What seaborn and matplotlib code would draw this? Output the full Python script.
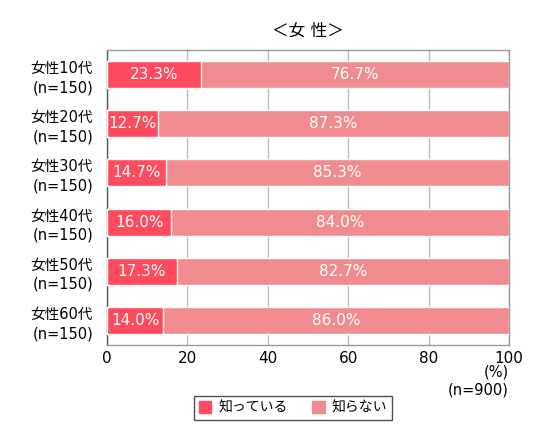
import matplotlib
matplotlib.use("Agg")
import matplotlib.pyplot as plt
import seaborn as sns
import pandas as pd
from matplotlib.patches import Patch

sns.set_theme(style="white")
plt.rcParams['font.family'] = ['DejaVu Sans', 'Noto Sans CJK JP']
plt.rcParams['text.color'] = 'black'
plt.rcParams['xtick.color'] = 'black'
plt.rcParams['ytick.color'] = 'black'

categories = ["女性10代\n(n=150)", "女性20代\n(n=150)", "女性30代\n(n=150)",
              "女性40代\n(n=150)", "女性50代\n(n=150)", "女性60代\n(n=150)"]
know = [23.3, 12.7, 14.7, 16.0, 17.3, 14.0]
dont_know = [76.7, 87.3, 85.3, 84.0, 82.7, 86.0]
series_names = ["知っている", "知らない"]

c_know = "#FF4B5E"
c_dont = "#F08C8F"

df = pd.DataFrame({"cat": categories, "know": know, "dont": dont_know})
df["total"] = df["know"] + df["dont"]

fig = plt.figure(figsize=(5.5, 4.43), dpi=100)
ax = fig.add_axes([107/550, 1-345/443, (509-107)/550, (345-50)/443])

sns.barplot(data=df, y="cat", x="total", color=c_dont, orient="h", ax=ax,
            width=0.55, saturation=1, zorder=3)
sns.barplot(data=df, y="cat", x="know", color=c_know, orient="h", ax=ax,
            width=0.55, saturation=1, zorder=3)

for i, (k, d) in enumerate(zip(know, dont_know)):
    ax.text(k/2, i, f"{k:.1f}%", ha="center", va="center", color="white",
            fontsize=11, zorder=5)
    ax.text(k + d/2, i, f"{d:.1f}%", ha="center", va="center", color="white",
            fontsize=11, zorder=5)

ax.set_xlim(0, 100)
ax.set_ylim(5.5, -0.5)
ax.set_xticks([0, 20, 40, 60, 80, 100])
ax.set_xticklabels(["0", "20", "40", "60", "80", "100"], fontsize=11)
ax.set_yticks(range(6))
ax.set_yticklabels(categories, fontsize=10.5, linespacing=1.35)
ax.set_yticks([0.5, 1.5, 2.5, 3.5, 4.5], minor=True)
ax.tick_params(axis="y", which="minor", direction="in", length=5, color="#888888", width=1)
ax.tick_params(axis="y", which="major", length=0, pad=10)
ax.tick_params(axis="x", length=0, pad=4)
ax.xaxis.grid(True, color="#BBBBBB", linewidth=1, zorder=0)
ax.set_axisbelow(True)
ax.set_xlabel("")
ax.set_ylabel("")
ax.spines["left"].set_color("#555555")
for s in ["top", "right", "bottom"]:
    ax.spines[s].set_color("#999999")
for s in ax.spines.values():
    s.set_linewidth(1)

ax.set_title("＜女 性＞", fontsize=12, pad=10)

fig.text(509/550, 1-372/443, "(%)", ha="right", va="center", fontsize=10.5)
fig.text(509/550, 1-390/443, "(n=900)", ha="right", va="center", fontsize=10.5)

handles = [Patch(color=c_know, label=series_names[0]),
           Patch(color=c_dont, label=series_names[1])]
leg = fig.legend(handles=handles, loc="center", bbox_to_anchor=(293/550, 1-408/443),
                 ncol=2, frameon=True, fancybox=False, fontsize=10,
                 handlelength=0.9, handleheight=0.9, columnspacing=1.8,
                 borderpad=0.35, handletextpad=0.5, borderaxespad=0)
leg.get_frame().set_edgecolor("#222222")
leg.get_frame().set_linewidth(1)

fig.savefig("out.png", dpi=100)
